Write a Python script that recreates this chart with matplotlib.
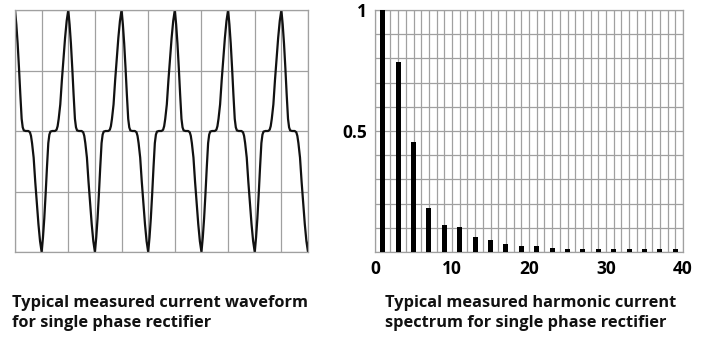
import numpy as np
import matplotlib
matplotlib.use("Agg")
import matplotlib.pyplot as plt

# waveform: shape of one current pulse (in grid cells from its peak)
pulse_dx = [-0.50, -0.44, -0.40, -0.36, -0.30, -0.24, -0.18, -0.12, -0.06, 0.0,
            0.05, 0.10, 0.15, 0.20, 0.25, 0.29, 0.33, 0.40]
pulse_v = [0.0, 0.01, 0.04, 0.10, 0.22, 0.42, 0.60, 0.77, 0.91, 1.0,
           0.88, 0.72, 0.52, 0.30, 0.10, 0.03, 0.005, 0.0]
peak_pos = [0, 1, 2, 3, 4, 5, 6, 7, 8, 9, 10, 11]
peak_sign = [1, -1, 1, -1, 1, -1, 1, -1, 1, -1, 1, -1]

# harmonic spectrum (odd harmonics, relative to fundamental)
harmonics = [1, 3, 5, 7, 9, 11, 13, 15, 17, 19, 21, 23, 25, 27, 29, 31, 33, 35, 37, 39]
amplitude = [1.0, 0.787, 0.454, 0.182, 0.11, 0.103, 0.06, 0.048, 0.032, 0.025,
             0.025, 0.018, 0.012, 0.012, 0.012, 0.012, 0.012, 0.012, 0.012, 0.012]

left_caption = "Typical measured current waveform\nfor single phase rectifier"
right_caption = "Typical measured harmonic current\nspectrum for single phase rectifier"

plt.rcParams['font.family'] = ['Open Sans', 'DejaVu Sans']

grid_col = '#a0a0a0'
W, H = 702, 338
fig = plt.figure(figsize=(W / 100, H / 100), dpi=100)

# left: waveform
ax1 = fig.add_axes([15 / W, 1 - 252 / H, 293 / W, 242 / H])
t = []
y = []
for p, s in zip(peak_pos, peak_sign):
    for dx, v in zip(pulse_dx, pulse_v):
        t.append(p + dx)
        y.append(s * v)
ax1.plot(t, y, color='#111111', lw=1.6, solid_joinstyle='round')
ax1.set_xlim(0, 11)
ax1.set_ylim(-1, 1)
ax1.set_xticks(range(12))
ax1.set_yticks([-1, -0.5, 0, 0.5, 1])
ax1.tick_params(length=0, labelbottom=False, labelleft=False)
ax1.grid(True, color=grid_col, lw=0.9)
ax1.set_axisbelow(True)
for sp in ax1.spines.values():
    sp.set_color(grid_col)
    sp.set_linewidth(0.9)

# right: spectrum
ax2 = fig.add_axes([375 / W, 1 - 252 / H, 308 / W, 242 / H])
ax2.bar(harmonics, amplitude, width=0.65, color='black', zorder=3)
ax2.set_xlim(0, 40)
ax2.set_ylim(0, 1)
ax2.set_xticks(range(41))
ax2.set_xticklabels([str(i) if i % 10 == 0 else '' for i in range(41)])
yt = [round(0.1 * i, 1) for i in range(11)]
ax2.set_yticks(yt)
ax2.set_yticklabels(['0.5' if v == 0.5 else ('1' if v == 1.0 else '') for v in yt])
ax2.tick_params(length=0, labelsize=12.5, pad=6)
for lab in ax2.get_xticklabels() + ax2.get_yticklabels():
    lab.set_fontweight('bold')
ax2.grid(True, color=grid_col, lw=0.9)
ax2.set_axisbelow(True)
for sp in ax2.spines.values():
    sp.set_color(grid_col)
    sp.set_linewidth(0.9)

fig.text(12 / W, 1 - 295 / H, left_caption, fontsize=11.8, fontweight='bold',
         va='top', ha='left', linespacing=1.3, color='#111111')
fig.text(385 / W, 1 - 295 / H, right_caption, fontsize=11.8, fontweight='bold',
         va='top', ha='left', linespacing=1.3, color='#111111')

fig.savefig('out.png', dpi=100)
